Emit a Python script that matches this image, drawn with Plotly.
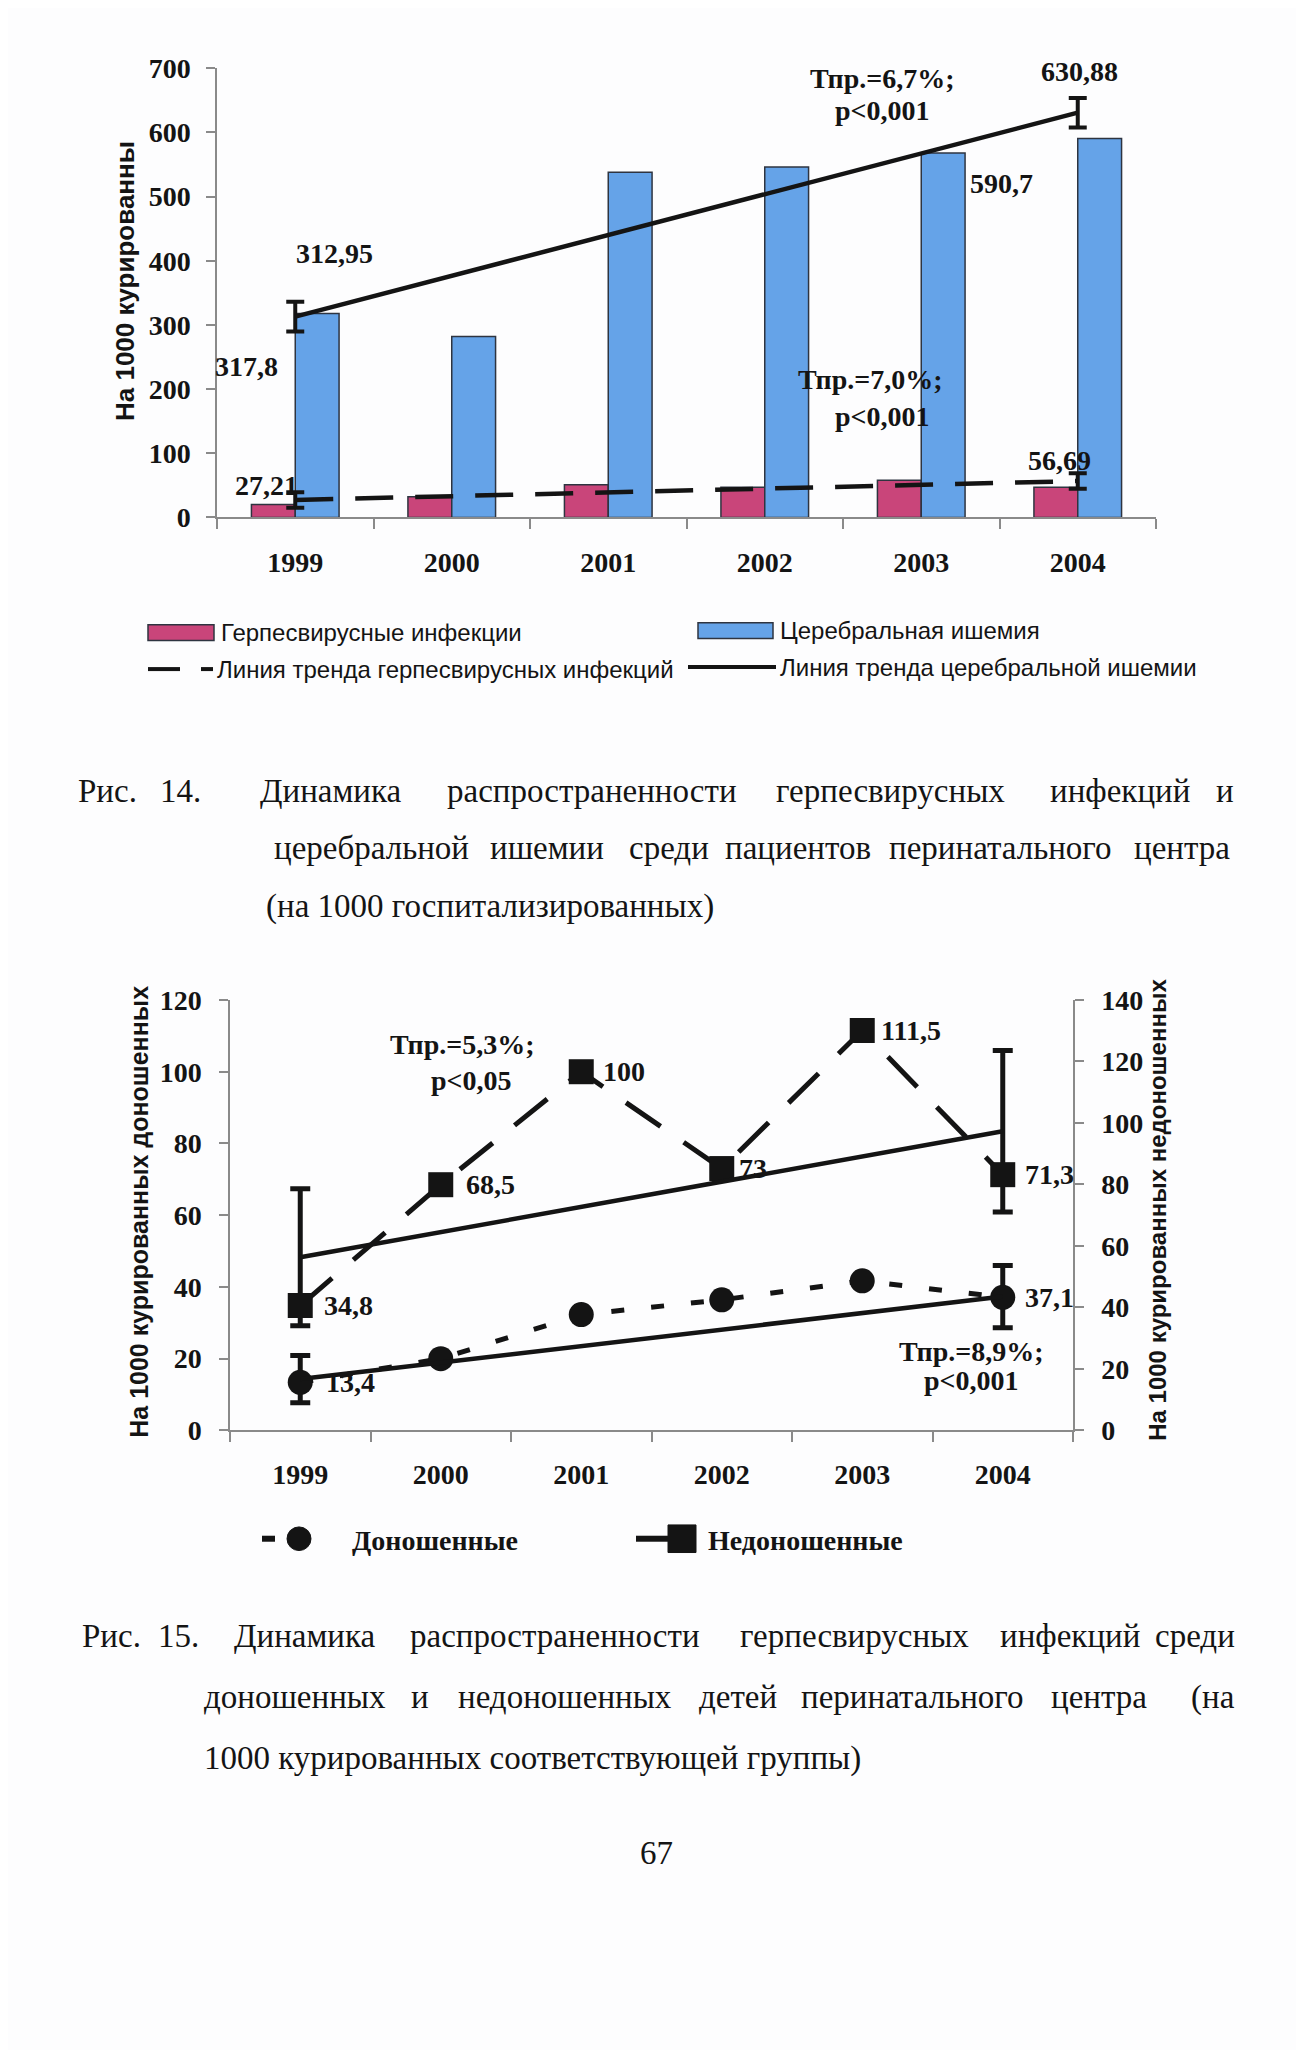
import plotly.graph_objects as go

W, H = 1304, 2050

# ---------------- data (Рис. 14) ----------------
years = ['1999', '2000', '2001', '2002', '2003', '2004']
herpes = [20, 32, 51, 47, 58, 47]
ischemia = [317.8, 282, 538, 546, 568, 590.7]
trend_years = ['1999', '2004']
herpes_trend = [27.21, 56.69]
herpes_trend_err = [12, 12]
isch_trend = [312.95, 630.88]
isch_trend_err = [23, 23]

# ---------------- data (Рис. 15) ----------------
term = [13.4, 20.0, 32.3, 36.4, 41.7, 37.1]          # доношенные, left axis
preterm = [34.8, 68.5, 100, 73, 111.5, 71.3]         # недоношенные (labels on left scale)
term_trend = [14.3, 37.3]
term_trend_err = [6.6, 8.7]
preterm_trend = [56.3, 97.3]                          # right axis
preterm_trend_err = [22.3, 26.3]

term_labels = ['13,4', '', '', '', '', '37,1']
preterm_labels = ['34,8', '68,5', '100', '73', '111,5', '71,3']
preterm_label_shift = [22, 23, 20, 15, 17, 20]
term_label_shift = [24, 0, 0, 0, 0, 20]

PINK = '#c9457a'
BLUE = '#65a3e8'
OUT = '#2e3440'
INK = '#141414'
AX = '#8a8a8a'
SERIF = 'Liberation Serif'
SANS = 'Liberation Sans'


def px(x):
    return x / W


def py(y):
    return 1 - y / H


def ci(cat):
    # category index used by annotations on a category axis
    return years.index(cat)


fig = go.Figure()

# ---- chart 1 ----
fig.add_trace(go.Bar(x=years, y=herpes, name='Герпесвирусные инфекции',
                     marker=dict(color=PINK, line=dict(color=OUT, width=1.5)),
                     xaxis='x', yaxis='y'))
fig.add_trace(go.Bar(x=years, y=ischemia, name='Церебральная ишемия',
                     marker=dict(color=BLUE, line=dict(color=OUT, width=1.5)),
                     xaxis='x', yaxis='y'))
fig.add_trace(go.Scatter(x=trend_years, y=herpes_trend, mode='lines',
                         line=dict(color=INK, width=4.5, dash='38px,22px'),
                         error_y=dict(type='data', array=herpes_trend_err, color=INK,
                                      thickness=4, width=9),
                         xaxis='x', yaxis='y'))
fig.add_trace(go.Scatter(x=trend_years, y=isch_trend, mode='lines',
                         line=dict(color=INK, width=4.5),
                         error_y=dict(type='data', array=isch_trend_err, color=INK,
                                      thickness=4, width=9),
                         xaxis='x', yaxis='y'))

# ---- chart 2 ----
fig.add_trace(go.Scatter(x=years, y=preterm, mode='lines+markers', name='Недоношенные',
                         line=dict(color=INK, width=5, dash='42px,28px'),
                         marker=dict(symbol='square', size=25, color=INK),
                         xaxis='x2', yaxis='y2'))
fig.add_trace(go.Scatter(x=years, y=term, mode='lines+markers', name='Доношенные',
                         line=dict(color=INK, width=5, dash='13px,27px'),
                         marker=dict(symbol='circle', size=25, color=INK),
                         xaxis='x2', yaxis='y2'))
fig.add_trace(go.Scatter(x=trend_years, y=term_trend, mode='lines',
                         line=dict(color=INK, width=4.5),
                         error_y=dict(type='data', array=term_trend_err, color=INK,
                                      thickness=5, width=10),
                         xaxis='x2', yaxis='y2'))
fig.add_trace(go.Scatter(x=trend_years, y=preterm_trend, mode='lines',
                         line=dict(color=INK, width=4.5),
                         error_y=dict(type='data', array=preterm_trend_err, color=INK,
                                      thickness=5, width=10),
                         xaxis='x2', yaxis='y3'))

tickfont = dict(family=SERIF, size=28, color=INK, weight='bold')
common_x = dict(type='category', categoryorder='array', categoryarray=years,
                range=[-0.5, 5.5], autorange=False,
                tickson='boundaries', ticks='outside', ticklen=10,
                tickcolor=AX, tickwidth=1.5, showline=True, linecolor=AX, linewidth=1.5,
                showgrid=False, zeroline=False, tickfont=tickfont, tickangle=0,
                fixedrange=True)
common_y = dict(ticks='outside', ticklen=9, tickcolor=AX, tickwidth=1.5, showline=True,
                linecolor=AX, linewidth=1.5, showgrid=False, zeroline=False,
                tickfont=tickfont, autorange=False, fixedrange=True)

fig.update_layout(
    width=W, height=H,
    margin=dict(l=0, r=0, t=0, b=0),
    paper_bgcolor='#fdfdfe', plot_bgcolor='rgba(0,0,0,0)',
    showlegend=False,
    barmode='group', bargap=0.44, bargroupgap=0,
    xaxis=dict(common_x, domain=[px(209), px(1148)], anchor='y', ticklabelstandoff=19),
    yaxis=dict(common_y, domain=[py(502), py(46)], anchor='x', range=[0, 700], dtick=100,
               ticklabelstandoff=10),
    xaxis2=dict(common_x, domain=[px(222), px(1065)], anchor='y2', ticklabelstandoff=18),
    yaxis2=dict(common_y, domain=[py(1429), py(992)], anchor='x2', range=[0, 120], dtick=20,
                ticklabelstandoff=12),
    yaxis3=dict(common_y, overlaying='y2', side='right', anchor='x2', range=[0, 140], dtick=20,
                ticklabelstandoff=12),
)

ann = []


def text(t, x, y, size=28, family=SERIF, bold=True, xanchor='center', yanchor='middle', angle=0):
    ann.append(dict(text=t, x=px(x), y=py(y), xref='paper', yref='paper', showarrow=False,
                    xanchor=xanchor, yanchor=yanchor, textangle=angle,
                    font=dict(family=family, size=size, color=INK,
                              weight='bold' if bold else 'normal')))


def dlabel(t, xcat, yval, xs, ys, xref='x', yref='y', xanchor='center', size=28):
    ann.append(dict(text=t, x=ci(xcat), y=yval, xref=xref, yref=yref, xshift=xs, yshift=ys,
                    showarrow=False, xanchor=xanchor, yanchor='middle',
                    font=dict(family=SERIF, size=size, color=INK, weight='bold')))


# chart 1 value labels
dlabel('312,95', trend_years[0], isch_trend[0], 39, 63)
dlabel('317,8', years[0], ischemia[0], -49, -53)
dlabel('27,21', trend_years[0], herpes_trend[0], -29, 14)
dlabel('630,88', trend_years[1], isch_trend[1], 2, 41)
dlabel('590,7', years[5], ischemia[5], -76, -45)
dlabel('56,69', trend_years[1], herpes_trend[1], -18, 21)
text('Тпр.=6,7%;', 874, 56)
text('p<0,001', 874, 89)
text('Тпр.=7,0%;', 862, 362)
text('p<0,001', 874, 400)

# chart 1 axis title
text('На 1000 курированны', 117, 262, size=26, family=SANS, angle=-90)

# chart 1 legend (manual)
shapes = []
shapes.append(dict(type='rect', xref='paper', yref='paper', x0=px(140), x1=px(206),
                   y0=py(627), y1=py(611), fillcolor=PINK, line=dict(color=OUT, width=1.5)))
shapes.append(dict(type='rect', xref='paper', yref='paper', x0=px(690), x1=px(765),
                   y0=py(625), y1=py(609), fillcolor=BLUE, line=dict(color=OUT, width=1.5)))
for x0, x1 in [(140, 172), (193, 205)]:
    shapes.append(dict(type='line', xref='paper', yref='paper', x0=px(x0), x1=px(x1),
                       y0=py(656), y1=py(656), line=dict(color=INK, width=4)))
shapes.append(dict(type='line', xref='paper', yref='paper', x0=px(680), x1=px(768),
                   y0=py(654), y1=py(654), line=dict(color=INK, width=4)))
text('Герпесвирусные инфекции', 211, 619, size=24, family=SANS, bold=False, xanchor='left')
text('Церебральная ишемия', 770, 617, size=24, family=SANS, bold=False, xanchor='left')
text('Линия тренда герпесвирусных инфекций', 207, 656, size=24, family=SANS, bold=False,
     xanchor='left')
text('Линия тренда церебральной ишемии', 770, 654, size=24, family=SANS, bold=False,
     xanchor='left')

# chart 2 value labels
for i, lab in enumerate(preterm_labels):
    dlabel(lab, years[i], preterm[i], preterm_label_shift[i], 0, 'x2', 'y2', 'left')
for i, lab in enumerate(term_labels):
    if lab:
        dlabel(lab, years[i], term[i], term_label_shift[i], 0, 'x2', 'y2', 'left')
text('Тпр.=5,3%;', 454, 1037)
text('p<0,05', 463, 1074)
text('Тпр.=8,9%;', 963, 1349)
text('p<0,001', 963, 1378)

# chart 2 axis titles
text('На 1000 курированных доношенных', 131, 1207, size=25, family=SANS, angle=-90)
text('На 1000 курированных недоношенных', 1150, 1205, size=24, family=SANS, angle=-90)

# chart 2 legend (manual)
shapes.append(dict(type='line', xref='paper', yref='paper', x0=px(254), x1=px(267),
                   y0=py(1539), y1=py(1539), line=dict(color=INK, width=6)))
shapes.append(dict(type='circle', xref='paper', yref='paper', x0=px(279), x1=px(303),
                   y0=py(1551), y1=py(1527), fillcolor=INK, line=dict(color=INK, width=1)))
shapes.append(dict(type='line', xref='paper', yref='paper', x0=px(628), x1=px(660),
                   y0=py(1539), y1=py(1539), line=dict(color=INK, width=6)))
shapes.append(dict(type='rect', xref='paper', yref='paper', x0=px(660), x1=px(688),
                   y0=py(1553), y1=py(1525), fillcolor=INK, line=dict(color=INK, width=1)))
text('Доношенные', 342, 1541, size=28, xanchor='left')
text('Недоношенные', 698, 1541, size=28, xanchor='left')

# captions
CAP = 33
text('Рис.', 68, 780, size=CAP, bold=False, xanchor='left')
text('14.', 150, 780, size=CAP, bold=False, xanchor='left')
text('Динамика', 250, 780, size=CAP, bold=False, xanchor='left')
text('распространенности', 584, 780, size=CAP, bold=False)
text('герпесвирусных', 882, 780, size=CAP, bold=False)
text('инфекций', 1112, 780, size=CAP, bold=False)
text('и', 1228, 780, size=CAP, bold=False, xanchor='right')
text('церебральной', 264, 838, size=CAP, bold=False, xanchor='left')
text('ишемии', 539, 838, size=CAP, bold=False)
text('среди', 661, 838, size=CAP, bold=False)
text('пациентов', 790, 838, size=CAP, bold=False)
text('перинатального', 992, 838, size=CAP, bold=False)
text('центра', 1224, 838, size=CAP, bold=False, xanchor='right')
text('(на 1000 госпитализированных)', 256, 897, size=CAP, bold=False, xanchor='left')

text('Рис.', 72, 1638, size=CAP, bold=False, xanchor='left')
text('15.', 148, 1638, size=CAP, bold=False, xanchor='left')
text('Динамика', 224, 1638, size=CAP, bold=False, xanchor='left')
text('распространенности', 547, 1638, size=CAP, bold=False)
text('герпесвирусных', 846, 1638, size=CAP, bold=False)
text('инфекций', 1062, 1638, size=CAP, bold=False)
text('среди', 1229, 1638, size=CAP, bold=False, xanchor='right')
text('доношенных', 194, 1700, size=CAP, bold=False, xanchor='left')
text('и', 412, 1700, size=CAP, bold=False)
text('недоношенных', 557, 1700, size=CAP, bold=False)
text('детей', 730, 1700, size=CAP, bold=False)
text('перинатального', 904, 1700, size=CAP, bold=False)
text('центра', 1091, 1700, size=CAP, bold=False)
text('(на', 1229, 1700, size=CAP, bold=False, xanchor='right')
text('1000 курированных соответствующей группы)', 194, 1762, size=CAP, bold=False,
     xanchor='left')
text('67', 648, 1858, size=CAP, bold=False)

fig.update_layout(annotations=ann, shapes=shapes)
fig.write_html('out.html')
